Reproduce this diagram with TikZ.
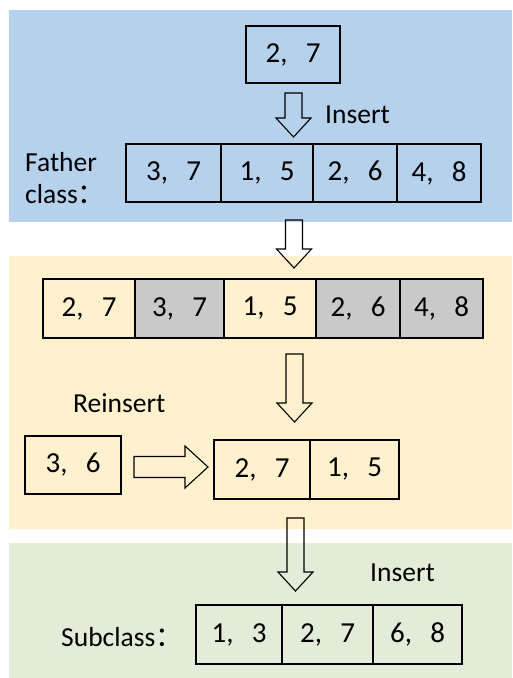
\documentclass[tikz,border=0pt]{standalone}
\usepackage{fontspec}
\setmainfont{Carlito}
\newfontfamily\cjk{Noto Sans CJK SC}
\usetikzlibrary{calc}
\definecolor{panelblue}{RGB}{181,209,235}
\definecolor{panelyellow}{RGB}{255,241,206}
\definecolor{panelgreen}{RGB}{226,236,216}
\definecolor{cellgray}{RGB}{201,201,201}
% a pair of values separated by a wide comma
\newcommand\pair[2]{#1,\hspace{0.63em}#2}
\newcommand\fwcolon{{\cjk ：}}
\begin{document}
\begin{tikzpicture}[x=1pt,y=-1pt,
  bigtext/.style={font=\fontsize{27.5}{32}\selectfont},
  cell/.style={draw, line width=1.1pt, inner sep=0pt, font=\fontsize{29}{34}\selectfont},
  greycell/.style={cell, fill=cellgray},
  lbl/.style={bigtext, inner sep=0pt, anchor=base west},
  arrowline/.style={draw, line width=1.1pt, line join=miter},
  blockdown/.style={arrowline, to path={let \p1=(\tikztostart), \p2=(\tikztotarget) in
      (\x1-8.5pt,\y1) -- (\x1+8.5pt,\y1) -- (\x1+8.5pt,\y2+19pt) -- (\x1+17.5pt,\y2+19pt)
      -- (\x1,\y2) -- (\x1-17.5pt,\y2+19pt) -- (\x1-8.5pt,\y2+19pt) -- cycle}},
  blockright/.style={arrowline, to path={let \p1=(\tikztostart), \p2=(\tikztotarget) in
      (\x1,\y1+10.5pt) -- (\x2-23pt,\y1+10.5pt) -- (\x2-23pt,\y1+21pt) -- (\x2,\y1)
      -- (\x2-23pt,\y1-21pt) -- (\x2-23pt,\y1-10.5pt) -- (\x1,\y1-10.5pt) -- cycle}}]
\useasboundingbox (0,0) rectangle (512,678);
\fill[white] (0,0) rectangle (512,678);

% coloured bands
\fill[panelblue]   (9,10)  rectangle (512,222);
\fill[panelyellow] (9,256) rectangle (512,529);
\fill[panelgreen]  (9,543) rectangle (512,678);

% entry to insert
\node[cell, minimum width=94, minimum height=57] (new) at (293,54.5) {\pair27};

% father class
\node[cell, minimum width=95, minimum height=58] (f1) at (173.5,173) {\pair37};
\node[cell, minimum width=92, minimum height=58] (f2) at (267,173)   {\pair15};
\node[cell, minimum width=84, minimum height=58] (f3) at (355,173)   {\pair26};
\node[cell, minimum width=84, minimum height=58] (f4) at (439,173)   {\pair48};
\node[lbl] (insA) at (325,123) {Insert};
\node[lbl] (fatherA) at (25,171) {Father};
\node[lbl] (fatherB) at (25,203) {class\fwcolon};

% overflowing node
\node[cell,     minimum width=92, minimum height=59] (m1) at (89,308.5)    {\pair27};
\node[greycell, minimum width=89, minimum height=59] (m2) at (179.5,308.5) {\pair37};
\node[cell,     minimum width=92, minimum height=59] (m3) at (270,308.5)   {\pair15};
\node[greycell, minimum width=84, minimum height=59] (m4) at (358,308.5)   {\pair26};
\node[greycell, minimum width=83, minimum height=59] (m5) at (441.5,308.5) {\pair48};

% reinsertion
\node[lbl] (reins) at (73,412) {Reinsert};
\node[cell, minimum width=96, minimum height=58] (ri) at (73,465) {\pair36};
\node[cell, minimum width=96, minimum height=59] (r1) at (262,469.5)   {\pair27};
\node[cell, minimum width=89, minimum height=59] (r2) at (354.5,469.5) {\pair15};

% subclass
\node[lbl] (insB) at (370,581) {Insert};
\node[lbl] (subl) at (61,646) {Subclass\fwcolon};
\node[cell, minimum width=86, minimum height=59] (s1) at (239,634.5)   {\pair13};
\node[cell, minimum width=91, minimum height=59] (s2) at (327.5,634.5) {\pair27};
\node[cell, minimum width=89, minimum height=59] (s3) at (417.5,634.5) {\pair68};

% block arrows
\coordinate (a1s) at (293.5,93);  \coordinate (a1e) at (293.5,137);
\coordinate (a2s) at (294,220);   \coordinate (a2e) at (294,268);
\coordinate (a3s) at (294.5,354); \coordinate (a3e) at (294.5,422);
\coordinate (a4s) at (295.5,518); \coordinate (a4e) at (295.5,591);
\coordinate (a5s) at (134,467);   \coordinate (a5e) at (208,467);
\draw[blockdown] (a1s) to (a1e);
\draw[blockdown] (a2s) to (a2e);
\draw[blockdown] (a3s) to (a3e);
\draw[blockdown] (a4s) to (a4e);
\draw[blockright] (a5s) to (a5e);
\end{tikzpicture}
\end{document}
